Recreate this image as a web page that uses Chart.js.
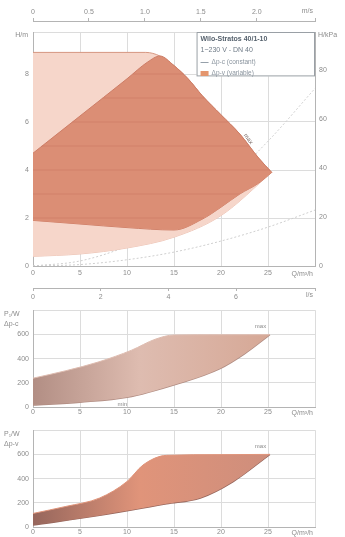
<!DOCTYPE html>
<html>
<head>
<meta charset="utf-8">
<script src="https://cdn.jsdelivr.net/npm/chart.js@4.4.1/dist/chart.umd.min.js"></script>
<style>
html, body { margin: 0; padding: 0; background: #fff; }
#wrap { position: relative; width: 345px; height: 537px; overflow: hidden; }
.box { position: absolute; left: 0; width: 345px; }
</style>
</head>
<body>
<div id="wrap">
  <div class="box" style="top:0;height:302px"><canvas id="headChart"></canvas></div>
  <div class="box" style="top:302px;height:120px"><canvas id="powerC"></canvas></div>
  <div class="box" style="top:422px;height:115px"><canvas id="powerV"></canvas></div>
</div>
<script>
// Kennlinie H(Q) - Hüllkurve max / min
const maxQ = [0, 12, 13.5, 15, 16.5, 18, 20, 22, 24, 25.4];
const maxH = [8.9, 8.9, 8.75, 8.35, 7.8, 7.1, 6.3, 5.5, 4.5, 3.9];
const minQ = [0, 5, 10, 15, 20, 25.4];
const minH = [0.4, 0.5, 0.75, 1.2, 2.1, 3.9];

// Arbeitsbereich Δp-v
const dpvTopQ = [0, 5, 10, 12.2, 13.5, 15, 16.5, 18, 20, 22, 24, 25.4];
const dpvTopH = [4.7, 6.25, 7.8, 8.5, 8.75, 8.35, 7.8, 7.1, 6.3, 5.5, 4.5, 3.9];
const dpvBotQ = [0, 5, 10, 15, 18, 20, 22, 24, 25.4];
const dpvBotH = [1.9, 1.75, 1.6, 1.5, 1.95, 2.45, 3.0, 3.45, 3.9];

// Δp-c Linien
const dpcH = [2, 3, 4, 5, 6, 7, 8];
const dpcFrom = [0, 0, 0, 0.9, 4.2, 7.4, 10.6];
const dpcTo = [18.2, 22, 25.2, 23, 20.7, 18.2, 16];

// Anlagenkennlinien
const sysQ = [0, 5, 10, 15, 20, 25, 30];
const sysLowH = [0, 0.06, 0.26, 0.58, 1.04, 1.62, 2.33];
const sysHighH = [0, 0.21, 0.83, 1.87, 3.3, 5.2, 7.4];

// Leistungsaufnahme P1 (Δp-c)
const pcTopQ = [0, 3.5, 7, 10.5, 13, 15, 20, 25.2];
const pcTopP = [238, 300, 373, 470, 560, 595, 597, 598];
const pcBotQ = [0, 5, 10, 15.3, 19.9, 22.5, 25.2];
const pcBotP = [16, 40, 80, 190, 318, 440, 598];

// Leistungsaufnahme P1 (Δp-v)
const pvTopQ = [0, 3.5, 7.1, 10, 11.7, 14.2, 20, 25.2];
const pvTopP = [112, 170, 240, 376, 512, 592, 598, 600];
const pvBotQ = [0, 7.1, 14.2, 17.8, 21.3, 25.2];
const pvBotP = [16, 96, 192, 240, 376, 600];

const qTicksM3h = [0, 5, 10, 15, 20, 25];
const legendLines = ['Wilo-Stratos 40/1-10', '1~230 V - DN 40', 'Δp-c (constant)', 'Δp-v (variable)'];

const FONT = 'Liberation Sans, Arial, sans-serif';
const TICK = '#8c8c8c';
const GRID = '#dcdcdc';
const FRAME = '#b4b4b4';
const LIGHT = 'rgb(246,214,202)';
const DARK = 'rgb(219,142,117)';

function pts(xs, ys) {
    return xs.map((x, i) => ({ x: x, y: ys[i] }));
}

function textPlugin(id, drawFn) {
    return { id: id, afterDraw(chart) { drawFn(chart, chart.ctx); } };
}

function put(ctx, txt, x, y, align, color, size, bold) {
    ctx.save();
    ctx.font = (bold ? 'bold ' : '') + (size || 7) + 'px ' + FONT;
    ctx.fillStyle = color || TICK;
    ctx.textAlign = align || 'left';
    ctx.textBaseline = 'middle';
    ctx.fillText(txt, x, y);
    ctx.restore();
}

const tickFont = { family: FONT, size: 7 };

function linearAxis(extra) {
    return Object.assign({
        type: 'linear',
        ticks: { color: TICK, font: tickFont, padding: 2, maxRotation: 0 },
        grid: { color: GRID, drawTicks: false },
        border: { color: FRAME }
    }, extra);
}

// nur ganze Schritte beschriften
const every = step => v => (Math.abs(v / step - Math.round(v / step)) < 1e-6 ? v : '');

Chart.defaults.animation = false;
Chart.defaults.plugins.legend.display = false;
Chart.defaults.plugins.tooltip.enabled = false;

// ---------- Kennlinie H/Q ----------
const headSets = [
    { data: pts(maxQ, maxH), fill: '+1', backgroundColor: LIGHT, borderColor: 'rgb(214,150,128)', borderWidth: 1, order: 5 },
    { data: pts(minQ, minH), fill: false, borderColor: 'rgb(236,196,182)', borderWidth: 1, order: 5 },
    { data: pts(dpvTopQ, dpvTopH), fill: '+1', backgroundColor: DARK, borderColor: 'rgb(205,125,102)', borderWidth: 1, order: 4 },
    { data: pts(dpvBotQ, dpvBotH), fill: false, borderColor: 'rgb(205,125,102)', borderWidth: 1, order: 4 },
    { data: pts(sysQ, sysLowH), fill: false, borderColor: '#cfcfcf', borderWidth: 1, borderDash: [2, 2], order: 10 },
    { data: pts(sysQ, sysHighH), fill: false, borderColor: '#cfcfcf', borderWidth: 1, borderDash: [2, 2], order: 10 }
];
dpcH.forEach((h, i) => {
    headSets.push({
        data: [{ x: dpcFrom[i], y: h }, { x: dpcTo[i], y: h }],
        fill: false, borderColor: 'rgba(190,105,85,0.35)', borderWidth: 1.2, order: 1
    });
});

new Chart(document.getElementById('headChart'), {
    type: 'line',
    data: { datasets: headSets },
    options: {
        responsive: true,
        maintainAspectRatio: false,
        layout: { padding: 0 },
        elements: { point: { radius: 0 }, line: { cubicInterpolationMode: 'monotone' } },
        scales: {
            x: linearAxis({
                position: 'bottom', min: 0, max: 30, weight: 0,
                afterBuildTicks: s => { s.ticks = qTicksM3h.concat([30]).map(v => ({ value: v })); },
                ticks: { color: TICK, font: tickFont, padding: 3, callback: v => v === 30 ? '' : v },
                afterFit: s => { s.height = 22; }
            }),
            xls: linearAxis({
                position: 'bottom', min: 0, max: 30 / 3.6, weight: 1,
                ticks: { color: TICK, font: tickFont, padding: 2, stepSize: 2, callback: v => v >= 8 ? '' : v },
                grid: { drawOnChartArea: false, tickLength: 3, color: FRAME },
                afterFit: s => { s.height = 14; }
            }),
            y: linearAxis({
                position: 'left', min: 0, max: 9.75,
                ticks: { color: TICK, font: tickFont, padding: 4, stepSize: 2, callback: every(2) },
                afterFit: s => { s.width = 33; }
            }),
            ykpa: linearAxis({
                position: 'right', min: 0, max: 9.75 * 9.81,
                ticks: { color: TICK, font: tickFont, padding: 4, stepSize: 20, callback: every(20) },
                grid: { drawOnChartArea: false, drawTicks: false },
                afterFit: s => { s.width = 30; }
            }),
            gap: {
                type: 'linear', position: 'top', weight: 0, min: 0, max: 1,
                ticks: { display: false }, grid: { display: false }, border: { display: false },
                afterFit: s => { s.height = 11; }
            },
            xms: linearAxis({
                position: 'top', min: 0, max: 2.52, weight: 1,
                ticks: { color: TICK, font: tickFont, padding: 2, stepSize: 0.5, callback: v => v > 2.4 ? '' : (v === 0 ? '0' : v.toFixed(1)) },
                grid: { drawOnChartArea: false, tickLength: 3, color: FRAME },
                afterFit: s => { s.height = 21; }
            })
        }
    },
    plugins: [textPlugin('headText', (chart, ctx) => {
        const a = chart.chartArea, sx = chart.scales.x, sy = chart.scales.y;
        put(ctx, 'H/m', a.left - 5, a.top + 3, 'right');
        put(ctx, 'H/kPa', a.right + 3, a.top + 3, 'left');
        put(ctx, 'Q/m³/h', a.right - 2, a.bottom + 8, 'right');
        put(ctx, 'l/s', a.right - 2, chart.scales.xls.top + 7, 'right');
        put(ctx, 'm/s', a.right - 2, chart.scales.xms.bottom - 10, 'right');
        // Legende
        const lx = sx.getPixelForValue(17.4), ly = a.top, lw = a.right - lx, lh = sy.getPixelForValue(7.9) - a.top;
        ctx.save();
        ctx.fillStyle = '#fff';
        ctx.fillRect(lx, ly, lw, lh);
        ctx.strokeStyle = '#9aa0a6';
        ctx.lineWidth = 1;
        ctx.strokeRect(lx + 0.5, ly + 0.5, lw - 1, lh - 1);
        ctx.fillStyle = 'rgb(228,150,110)';
        ctx.fillRect(lx + 4, ly + 39, 8, 5);
        ctx.strokeStyle = 'rgb(150,160,170)';
        ctx.beginPath(); ctx.moveTo(lx + 4, ly + 30.5); ctx.lineTo(lx + 12, ly + 30.5); ctx.stroke();
        ctx.restore();
        put(ctx, legendLines[0], lx + 4, ly + 7, 'left', '#56626e', 7, true);
        put(ctx, legendLines[1], lx + 4, ly + 18, 'left', '#6e7a86', 7);
        put(ctx, legendLines[2], lx + 15, ly + 30, 'left', '#8a949e', 6.5);
        put(ctx, legendLines[3], lx + 15, ly + 41, 'left', '#8a949e', 6.5);
        // max Beschriftung
        ctx.save();
        ctx.translate(sx.getPixelForValue(22.9), sy.getPixelForValue(5.3));
        ctx.rotate(0.95);
        put(ctx, 'max', 0, 0, 'center', '#7a6a66', 6);
        ctx.restore();
    })]
});

// ---------- P1 Diagramme ----------
function powerFill(stops) {
    return ctx => {
        const a = ctx.chart.chartArea;
        if (!a) return stops[1];
        const g = ctx.chart.ctx.createLinearGradient(a.left, 0, ctx.chart.scales.x.getPixelForValue(25.2), 0);
        g.addColorStop(0, stops[0]);
        g.addColorStop(0.45, stops[1]);
        g.addColorStop(1, stops[2]);
        return g;
    };
}

function powerChart(id, topQ, topP, botQ, botP, stops, mode, xHeight, showMin) {
    new Chart(document.getElementById(id), {
        type: 'line',
        data: {
            datasets: [
                { data: pts(topQ, topP), fill: '+1', backgroundColor: powerFill(stops), borderColor: stops[1], borderWidth: 1 },
                { data: pts(botQ, botP), fill: false, borderColor: stops[0], borderWidth: 1.5 }
            ]
        },
        options: {
            responsive: true,
            maintainAspectRatio: false,
            layout: { padding: { top: 5, right: 30 } },
            elements: { point: { radius: 0 }, line: { cubicInterpolationMode: 'monotone' } },
            scales: {
                x: linearAxis({
                    position: 'bottom', min: 0, max: 30,
                    afterBuildTicks: s => { s.ticks = qTicksM3h.concat([30]).map(v => ({ value: v })); },
                    ticks: { color: TICK, font: tickFont, padding: 1, callback: v => v === 30 ? '' : v },
                    afterFit: s => { s.height = xHeight; }
                }),
                y: linearAxis({
                    position: 'left', min: 0, max: 800,
                    ticks: { color: TICK, font: tickFont, padding: 4, stepSize: 200, callback: v => v === 800 ? '' : v },
                    afterFit: s => { s.width = 33; }
                })
            }
        },
        plugins: [textPlugin(id + 'Text', (chart, ctx) => {
            const a = chart.chartArea, sx = chart.scales.x, sy = chart.scales.y;
            put(ctx, 'P₁/W', 4, a.top + 4, 'left');
            put(ctx, mode, 4, a.top + 14, 'left');
            put(ctx, 'Q/m³/h', a.right - 2, a.bottom + 6, 'right');
            put(ctx, 'max', sx.getPixelForValue(24.2), sy.getPixelForValue(670), 'center', '#8a8a8a', 6);
            if (showMin) put(ctx, 'min', sx.getPixelForValue(9.5), sy.getPixelForValue(22), 'center', '#8a8a8a', 6);
        })]
    });
}

powerChart('powerC', pcTopQ, pcTopP, pcBotQ, pcBotP,
    ['rgb(178,142,132)', 'rgb(222,188,176)', 'rgb(214,168,150)'], 'Δp-c', 15, true);
powerChart('powerV', pvTopQ, pvTopP, pvBotQ, pvBotP,
    ['rgb(150,102,92)', 'rgb(224,148,122)', 'rgb(206,142,124)'], 'Δp-v', 10, false);
</script>
</body>
</html>
